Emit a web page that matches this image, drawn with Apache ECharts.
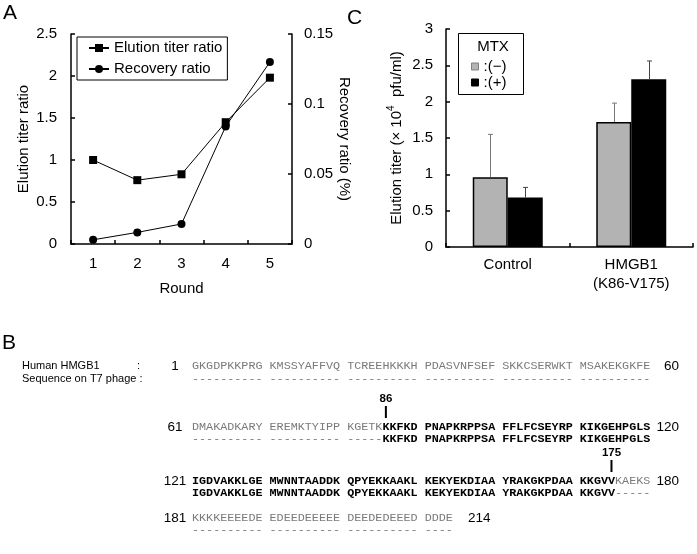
<!DOCTYPE html>
<html><head><meta charset="utf-8">
<script src="https://cdn.jsdelivr.net/npm/echarts@6/dist/echarts.min.js"></script>
<style>html,body{margin:0;padding:0;background:#fff}#c{width:697px;height:554px}</style>
</head><body><div id="c"></div>
<script>
// ---- Panel A data ----
const rounds = ['1', '2', '3', '4', '5'];
const elutionTiterRatio = [1.0, 0.76, 0.83, 1.45, 1.98];
const recoveryRatio = [0.003, 0.0083, 0.0143, 0.084, 0.130];

// ---- Panel C data ----
const groups = ['Control', 'HMGB1\n(K86-V175)'];
const mtxMinus = [0.96, 1.72];
const mtxMinusSD = [0.59, 0.26];
const mtxPlus = [0.68, 2.31];
const mtxPlusSD = [0.14, 0.25];

// ---- Panel B data (sequence alignment) ----
const rowStart = ['1', '61', '121', '181'];
const rowEnd = ['60', '120', '180', '214'];
// segments: [text, shownOnPhage]
const humanRows = [
  [['GKGDPKKPRG KMSSYAFFVQ TCREEHKKKH PDASVNFSEF SKKCSERWKT MSAKEKGKFE', 0]],
  [['DMAKADKARY EREMKTYIPP KGETK', 0], ['KKFKD PNAPKRPPSA FFLFCSEYRP KIKGEHPGLS', 1]],
  [['IGDVAKKLGE MWNNTAADDK QPYEKKAAKL KEKYEKDIAA YRAKGKPDAA KKGVV', 1], ['KAEKS', 0]],
  [['KKKKEEEEDE EDEEDEEEEE DEEDEDEEED DDDE', 0]]
];
const phageRows = [
  [['---------- ---------- ---------- ---------- ---------- ----------', 0]],
  [['---------- ---------- -----', 0], ['KKFKD PNAPKRPPSA FFLFCSEYRP KIKGEHPGLS', 1]],
  [['IGDVAKKLGE MWNNTAADDK QPYEKKAAKL KEKYEKDIAA YRAKGKPDAA KKGVV', 1], ['-----', 0]],
  [['---------- ---------- ---------- ----', 0]]
];
const markers = [86, 175];

const SANS = '"Liberation Sans", Arial, sans-serif';
const MONO = '"Liberation Mono", "Courier New", monospace';
const axisCol = '#000';

// layout constants for panel B
const seqX = 192, charW = 7.05, seqFont = 11.75;
const rowY = [[366, 379], [427, 439], [481, 493], [518, 530]];

function richText(segs) {
  return segs.map(s => '{' + (s[1] ? 'b' : 'g') + '|' + s[0] + '}').join('');
}
const rich = {
  g: {fontFamily: MONO, fontSize: seqFont, fill: '#7a7a7a', color: '#7a7a7a'},
  b: {fontFamily: MONO, fontSize: seqFont, fontWeight: 'bold', fill: '#000', color: '#000'}
};

const graphics = [];
function txt(x, y, text, size, opts) {
  opts = opts || {};
  graphics.push({
    type: 'text', x: x, y: y, silent: true,
    style: Object.assign({
      text: text, fill: '#000',
      font: (opts.weight || 'normal') + ' ' + size + 'px ' + (opts.family || SANS),
      textAlign: opts.align || 'left', align: opts.align || 'left',
      textVerticalAlign: opts.valign || 'middle', verticalAlign: opts.valign || 'middle'
    }, opts.extra || {})
  });
}
// panel letters
txt(3, 13, 'A', 21);
txt(347, 18, 'C', 21);
txt(2, 343, 'B', 21);
// legend C frame and title
graphics.push({type: 'rect', silent: true, shape: {x: 458.5, y: 33.5, width: 65, height: 61},
  style: {fill: 'none', stroke: '#000', lineWidth: 1}});
txt(493, 47, 'MTX', 15, {align: 'center'});

// panel B row labels
txt(22, 366, 'Human HMGB1', 11);
txt(137, 366, ':', 11);
txt(22, 379, 'Sequence on T7 phage :', 11);

for (let r = 0; r < 4; r++) {
  txt(175, rowY[r][0], rowStart[r], 13.5, {align: 'center'});
  graphics.push({type: 'text', x: seqX, y: rowY[r][0], silent: true,
    style: {text: richText(humanRows[r]), rich: rich, font: seqFont + 'px ' + MONO,
      textAlign: 'left', align: 'left', textVerticalAlign: 'middle', verticalAlign: 'middle'}});
  graphics.push({type: 'text', x: seqX, y: rowY[r][1], silent: true,
    style: {text: richText(phageRows[r]), rich: rich, font: seqFont + 'px ' + MONO,
      textAlign: 'left', align: 'left', textVerticalAlign: 'middle', verticalAlign: 'middle'}});
  if (r < 3) txt(679, rowY[r][0], rowEnd[r], 13.5, {align: 'right'});
  else txt(468, rowY[r][0], rowEnd[r], 13.5, {align: 'left'});
}
markers.forEach(n => {
  const r = Math.floor((n - 1) / 60), pos = (n - 1) % 60;
  const idx = pos + Math.floor(pos / 10);
  const x = seqX + (idx + 0.5) * charW;
  const yTop = rowY[r][0] - 21;
  txt(x, yTop - 7, String(n), 11.5, {align: 'center', weight: 'bold'});
  graphics.push({type: 'rect', silent: true, shape: {x: x - 1, y: yTop, width: 2, height: 12},
    style: {fill: '#000'}});
});

function errSeries(name, vals, sds, side, col) {
  return {
    type: 'custom', name: name, xAxisIndex: 1, yAxisIndex: 2, z: 5,
    data: vals.map((v, i) => [i, v, v + sds[i]]),
    encode: {x: 0, y: [1, 2]},
    renderItem: function (params, api) {
      const p0 = api.coord([api.value(0), api.value(1)]);
      const p1 = api.coord([api.value(0), api.value(2)]);
      const x = Math.round(p0[0] + side * 17.5) + 0.5;
      return {type: 'group', children: [
        {type: 'line', shape: {x1: x, y1: p0[1], x2: x, y2: p1[1]}, style: {stroke: col, lineWidth: 1}},
        {type: 'line', shape: {x1: x - 2.5, y1: p1[1], x2: x + 2.5, y2: p1[1]}, style: {stroke: col, lineWidth: 1}}
      ]};
    }
  };
}

const axLine = {show: true, lineStyle: {color: axisCol, width: 1.5}};
const axTick = {show: true, inside: true, length: 4, lineStyle: {color: axisCol, width: 1.5}};
const lbl = (m) => ({color: '#000', fontSize: 15, fontFamily: SANS, margin: m});
const nameStyle = {color: '#000', fontSize: 15, fontFamily: SANS};

const option = {
  animation: false,
  backgroundColor: '#fff',
  textStyle: {fontFamily: SANS},
  grid: [
    {left: 71, top: 34, width: 221, height: 210},
    {left: 446, top: 29, width: 247, height: 218}
  ],
  xAxis: [
    {gridIndex: 0, type: 'category', data: rounds, boundaryGap: true,
      axisLine: axLine, axisTick: axTick, axisLabel: lbl(12),
      name: 'Round', nameLocation: 'middle', nameGap: 37, nameTextStyle: nameStyle},
    {gridIndex: 1, type: 'category', data: groups, boundaryGap: true,
      axisLine: axLine, axisTick: axTick, axisLabel: Object.assign(lbl(8), {lineHeight: 19})}
  ],
  yAxis: [
    {gridIndex: 0, type: 'value', min: 0, max: 2.5, interval: 0.5, splitLine: {show: false},
      axisLine: axLine, axisTick: axTick, axisLabel: lbl(14),
      name: 'Elution titer ratio', nameLocation: 'middle', nameGap: 40, nameRotate: 90, nameTextStyle: nameStyle},
    {gridIndex: 0, type: 'value', position: 'right', min: 0, max: 0.15, interval: 0.05, splitLine: {show: false},
      axisLine: axLine, axisTick: axTick, axisLabel: lbl(12),
      name: 'Recovery ratio (%)', nameLocation: 'middle', nameGap: 43, nameRotate: -90, nameTextStyle: nameStyle},
    {gridIndex: 1, type: 'value', min: 0, max: 3, interval: 0.5, splitLine: {show: false},
      axisLine: axLine, axisTick: axTick, axisLabel: lbl(13),
      name: '{n|Elution titer (× 10}{s|4}{n|  pfu/ml)}', nameLocation: 'middle', nameGap: 42, nameRotate: 90,
      nameTextStyle: {color: '#000', fontFamily: SANS, fontSize: 15,
        rich: {n: {fontSize: 15, fontFamily: SANS, color: '#000', lineHeight: 18, verticalAlign: 'bottom'},
               s: {fontSize: 10, fontFamily: SANS, color: '#000', lineHeight: 18, verticalAlign: 'top'}}}}
  ],
  legend: [
    {data: ['Elution titer ratio', 'Recovery ratio'], orient: 'vertical', left: 77, top: 37,
      borderColor: '#000', borderWidth: 1, borderRadius: 0, padding: [3, 5, 3, 11],
      itemWidth: 20, itemHeight: 10, itemGap: 5,
      textStyle: {color: '#000', fontSize: 15, fontFamily: SANS, lineHeight: 16}},
    {data: [
        {name: '(−)', itemStyle: {color: '#b3b3b3', borderColor: '#808080', borderWidth: 1}},
        {name: '(+)', itemStyle: {color: '#000', borderColor: '#000', borderWidth: 1}}
      ], orient: 'vertical', left: 471, top: 59, padding: 0,
      itemWidth: 7, itemHeight: 7, itemGap: 1, icon: 'rect',
      formatter: n => ':' + n,
      textStyle: {color: '#000', fontSize: 15, fontFamily: SANS, lineHeight: 15}}
  ],
  series: [
    {type: 'line', name: 'Elution titer ratio', xAxisIndex: 0, yAxisIndex: 0, data: elutionTiterRatio,
      symbol: 'rect', symbolSize: 8, color: '#000', lineStyle: {color: '#000', width: 1},
      itemStyle: {color: '#000'}},
    {type: 'line', name: 'Recovery ratio', xAxisIndex: 0, yAxisIndex: 1, data: recoveryRatio,
      symbol: 'circle', symbolSize: 8, color: '#000', lineStyle: {color: '#000', width: 1},
      itemStyle: {color: '#000'}},
    {type: 'bar', name: '(−)', xAxisIndex: 1, yAxisIndex: 2, data: mtxMinus, barWidth: 35, barGap: '0%',
      itemStyle: {color: '#b3b3b3', borderColor: '#000', borderWidth: 1.5}},
    {type: 'bar', name: '(+)', xAxisIndex: 1, yAxisIndex: 2, data: mtxPlus, barWidth: 35, barGap: '0%',
      itemStyle: {color: '#000', borderColor: '#000', borderWidth: 1.5}},
    errSeries('errMinus', mtxMinus, mtxMinusSD, -1, '#777'),
    errSeries('errPlus', mtxPlus, mtxPlusSD, 1, '#444')
  ],
  graphic: {elements: graphics}
};
const chart = echarts.init(document.getElementById('c'), null, {renderer: 'canvas'});
chart.setOption(option);
</script></body></html>
